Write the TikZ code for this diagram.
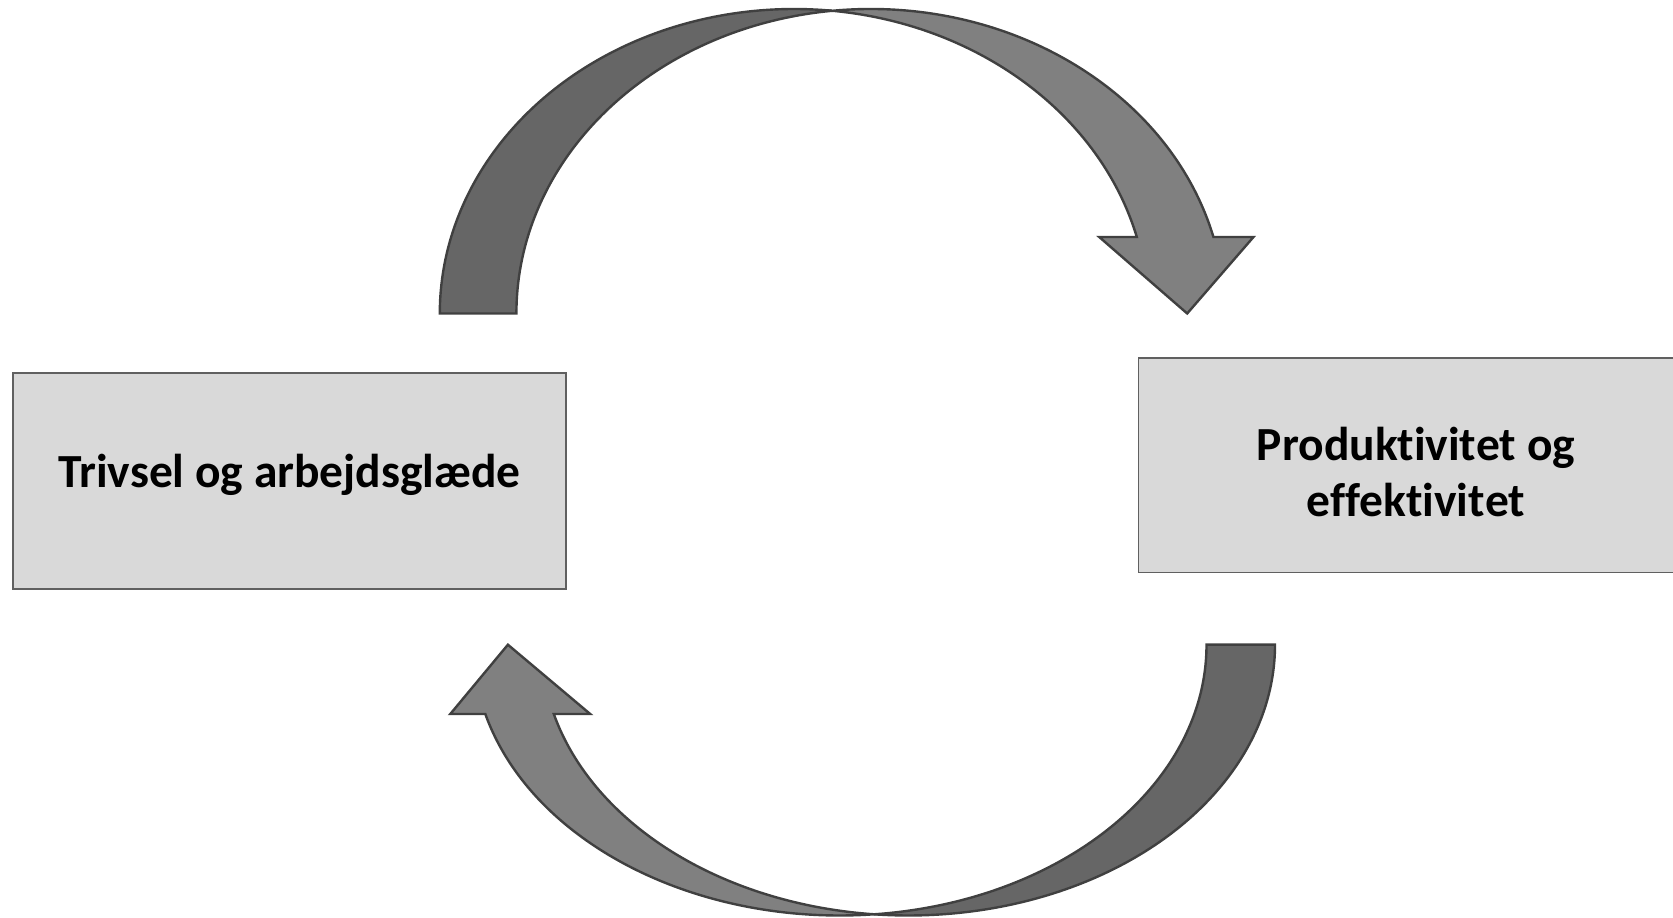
\documentclass[tikz,border=0pt]{standalone}
\usepackage{fontspec}
\setmainfont{Carlito}[Ligatures={NoCommon,NoContextual}]
\usetikzlibrary{calc}
\definecolor{boxfill}{HTML}{D9D9D9}
\definecolor{boxline}{HTML}{606060}
\definecolor{bandback}{HTML}{666666}
\definecolor{bandfront}{HTML}{808080}
\definecolor{bandline}{HTML}{404040}
% zero kern that keeps letter pairs as separate glyphs
\newcommand{\sep}{\kern0pt}
\begin{document}
\begin{tikzpicture}[x=1pt,y=1pt,
  infobox/.style={draw=boxline,fill=boxfill,line width=1.6pt},
  backband/.style={draw=bandline,fill=bandback,line width=2.4pt,line join=miter},
  frontband/.style={draw=bandline,fill=bandfront,line width=2.4pt,line join=miter},
  label/.style={font=\bfseries\fontsize{47.5}{55.5}\selectfont,inner sep=0pt,align=center}]
\useasboundingbox (0,0) rectangle (1673,918);

% boxes
\draw[infobox] (12.9,328.7) rectangle (566,544.7);
\draw[infobox] (1138.3,345.3) rectangle (1690,559.7);
\node[label,anchor=base] (trivsel) at (289.5,430.4) {Trivsel og arbejdsglæde};
\node[label,anchor=base] (prod1) at (1416,457) {Produkt\sep ivit\sep et og};
\node[label,anchor=base] (prod2) at (1416,401) {ef\sep fekt\sep ivit\sep et};

% upper curved arrow: two equal ellipses shifted sideways
% ellipse A centre (794,604.5), ellipse B centre (870.6,604.5), radii 354.2 x 304.5
\draw[backband] (439.8,604.5)
  arc[start angle=180,end angle=83.79,x radius=354.2pt,y radius=304.5pt]
  arc[start angle=96.21,end angle=180,x radius=354.2pt,y radius=304.5pt]
  -- cycle;
\draw[frontband] (832.3,907.2)
  arc[start angle=96.21,end angle=14.55,x radius=354.2pt,y radius=304.5pt]
  -- (1253.5,681) -- (1187.2,604.5) -- (1099.2,681) -- (1136.8,681)
  arc[start angle=14.55,end angle=83.79,x radius=354.2pt,y radius=304.5pt]
  -- cycle;

% lower curved arrow
% ellipse C centre (908.3,273.3), ellipse D centre (839.8,273.3), radii 366.7 x 270.8
\draw[backband] (1275,273.3)
  arc[start angle=360,end angle=264.64,x radius=366.7pt,y radius=270.8pt]
  arc[start angle=275.36,end angle=360,x radius=366.7pt,y radius=270.8pt]
  -- cycle;
\draw[frontband] (874.05,3.7)
  arc[start angle=275.36,end angle=194.83,x radius=366.7pt,y radius=270.8pt]
  -- (450.3,204) -- (507.9,273.3) -- (590.2,204) -- (553.8,204)
  arc[start angle=194.83,end angle=264.64,x radius=366.7pt,y radius=270.8pt]
  -- cycle;
\end{tikzpicture}
\end{document}
